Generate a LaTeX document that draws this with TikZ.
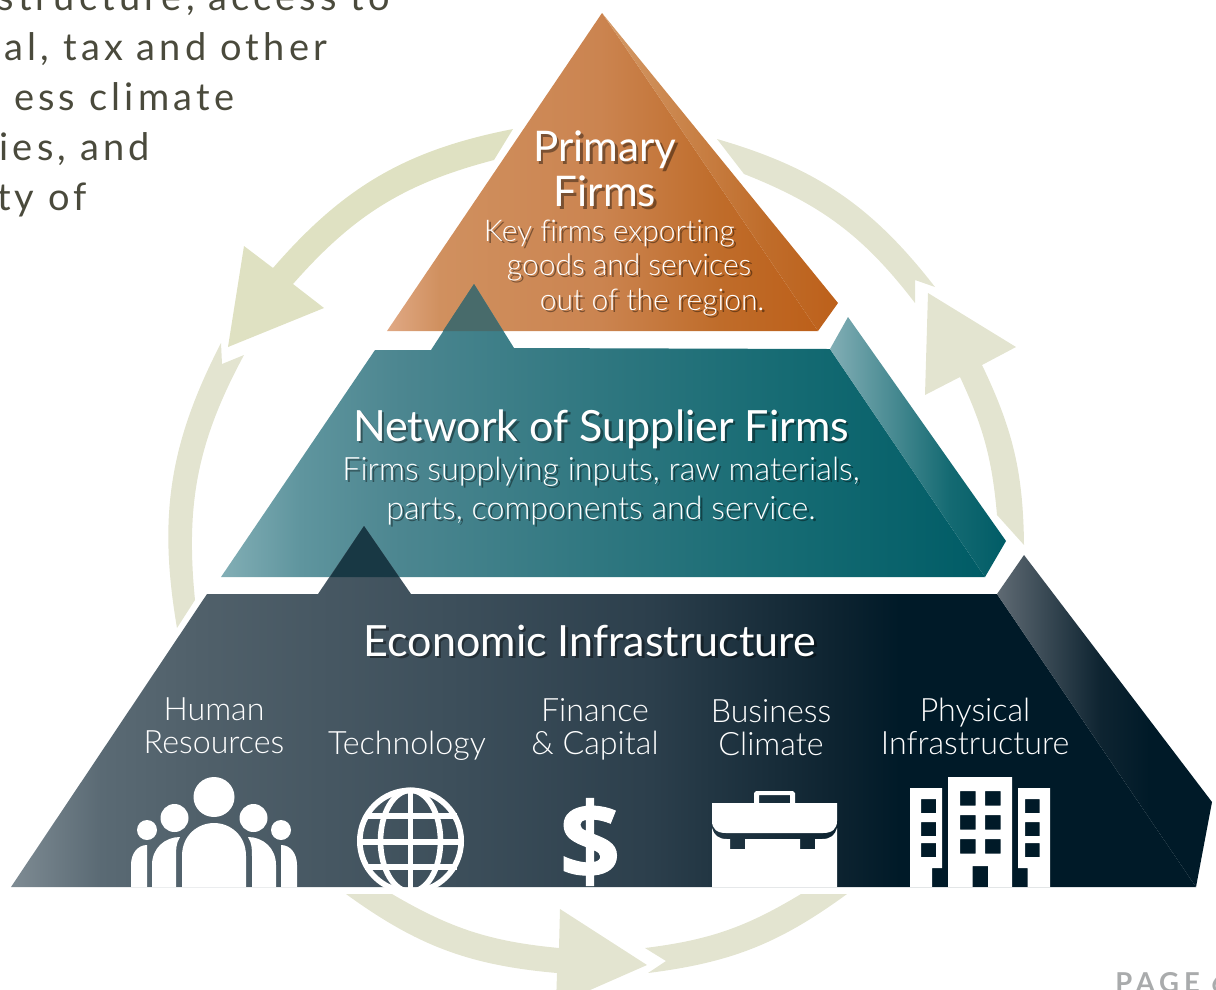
\documentclass[tikz,border=0pt]{standalone}
\usepackage{fontspec}
\usepackage{tikz}
\setmainfont{Lato}
\newfontfamily\lightfont[Ligatures=NoCommon]{Lato Light}
\newfontfamily\bodyfont[LetterSpace=11]{Lato}
\newfontfamily\pagefont[LetterSpace=18]{Lato}
\newfontfamily\iconfont[BoldFeatures={FakeBold=1}]{Open Sans}

\definecolor{arrowleft}{HTML}{DFE1C2}
\definecolor{arrowpale}{HTML}{E3E4D0}
\definecolor{bodyink}{HTML}{4A4A3C}
\definecolor{pageink}{HTML}{A9ABAC}
\definecolor{peaktop}{HTML}{486B6B}
\definecolor{peakmid}{HTML}{183844}
\definecolor{primA}{HTML}{E0A985}
\definecolor{primB}{HTML}{D0905F}
\definecolor{primC}{HTML}{CB8450}
\definecolor{primD}{HTML}{BF6C2A}
\definecolor{primE}{HTML}{BD601A}
\definecolor{primS}{HTML}{D49A68}
\definecolor{supA}{HTML}{82AEB5}
\definecolor{supB}{HTML}{5F959E}
\definecolor{supC}{HTML}{4C8690}
\definecolor{supD}{HTML}{2F7780}
\definecolor{supE}{HTML}{146A72}
\definecolor{supF}{HTML}{005C66}
\definecolor{infA}{HTML}{7E8B93}
\definecolor{infB}{HTML}{5A6A74}
\definecolor{infC}{HTML}{50606A}
\definecolor{infD}{HTML}{3D4F5B}
\definecolor{infE}{HTML}{2C3F4C}
\definecolor{infF}{HTML}{0E2431}
\definecolor{infG}{HTML}{001A28}
\definecolor{infS}{HTML}{5F6A73}

% stops run 25bp (left of the path) to 75bp (right of the path)
\pgfdeclarehorizontalshading{primaryfront}{100bp}{color(0bp)=(primA); color(25bp)=(primA); color(31.1bp)=(primB); color(49.7bp)=(primC); color(63.6bp)=(primD); color(75bp)=(primE); color(100bp)=(primE)}
\pgfdeclarehorizontalshading{primaryside}{100bp}{color(0bp)=(primS); color(25bp)=(primS); color(60bp)=(primD); color(75bp)=(primE); color(100bp)=(primE)}
\pgfdeclarehorizontalshading{supplierfront}{100bp}{color(0bp)=(supA); color(25bp)=(supA); color(30.2bp)=(supB); color(36.7bp)=(supC); color(49.8bp)=(supD); color(62.9bp)=(supE); color(75bp)=(supF); color(100bp)=(supF)}
\pgfdeclarehorizontalshading{supplierside}{100bp}{color(0bp)=(supA); color(25bp)=(supA); color(59bp)=(supE); color(75bp)=(supF); color(100bp)=(supF)}
\pgfdeclarehorizontalshading{infrafront}{100bp}{color(0bp)=(infA); color(25bp)=(infA); color(28.8bp)=(infB); color(33bp)=(infC); color(43.5bp)=(infD); color(52bp)=(infE); color(59.6bp)=(infF); color(62.5bp)=(infG); color(100bp)=(infG)}
\pgfdeclarehorizontalshading{infraside}{100bp}{color(0bp)=(infS); color(25bp)=(infS); color(49bp)=(infF); color(60.5bp)=(infG); color(100bp)=(infG)}

\tikzset{
  arrowa/.style={fill=arrowleft},
  arrowb/.style={fill=arrowpale},
  toptitle/.style={text=white, font=\fontsize{30}{32}\selectfont, align=center},
  tiertitle/.style={text=white, font=\fontsize{30.6}{32}\selectfont, align=center},
  tiertext/.style={text=white, font=\lightfont\fontsize{22.9}{27.7}\selectfont, align=center},
  keytext/.style={text=white, font=\lightfont\fontsize{21.3}{24}\selectfont, anchor=base west},
  pillar/.style={text=white, font=\lightfont\fontsize{22.9}{23.5}\selectfont, align=center},
  bodyline/.style={text=bodyink, font=\bodyfont\fontsize{27}{30}\selectfont, anchor=base east},
  icon/.style={fill=white},
  gridline/.style={draw=white, line width=4pt},
}

% white label with a drop shadow: name, position, style, text
\newcommand{\castlabel}[4]{
  \node[#3, text=black, opacity=.4, xshift=1.7pt, yshift=-1.7pt] at (#2) {#4};
  \node[#3] (#1) at (#2) {#4};
}

\begin{document}
\begin{tikzpicture}[x=0.025cm, y=-0.025cm]
  \path[use as bounding box, clip] (0,0) rectangle (1216,989);

  % text column cut by the page
  \node[bodyline] (line1) at (395,10)  {structure, access to};
  \node[bodyline] (line2) at (332,60)  {al, tax and other};
  \node[bodyline] (line3) at (239,110) {ess climate};
  \node[bodyline] (line4) at (155,160) {ies, and};
  \node[bodyline] (line5) at (92,210)  {ty of};
  \node[text=pageink, inner sep=0pt, font=\pagefont\bfseries\fontsize{19.5}{22}\selectfont, anchor=base west] (page) at (1115,992) {PAGE 6};

  % ring of arrows
  \fill[arrowa] (513,129) to[bend right=19] (273,268) -- (244,246) -- (228,347) -- (324,308) -- (293,284) to[bend left=17] (494,160) -- cycle;
  \fill[arrowb] (221,343) to[bend right=18.5] (177,628) -- (195,600) to[bend left=17] (244,355) -- (222,364) -- cycle;
  \fill[arrowb] (346,894) to[bend right=15.5] (557,973) -- (556,1005) -- (647,965) -- (560,909) -- (559,948) to[bend left=12.5] (392,894) -- cycle;
  \fill[arrowb] (847,894) to[bend left=14.5] (648,973) -- (666,961) -- (645,948) to[bend right=12] (801,894) -- cycle;
  \fill[arrowb] (1024,545) to[bend right=12.5] (982,365) -- (1016,347) -- (928,293) -- (925,395) -- (960,377) to[bend left=10] (997,515) -- cycle;
  \fill[arrowb] (717,139) to[bend left=18] (935,287) -- (915,280) -- (915,303) to[bend right=15.5] (744,174) -- cycle;

  % primary firms
  \path[shading=primaryfront] (602,13) -- (818,331) -- (387,331) -- cycle;
  \path[shading=primaryside] (602,13) -- (838,303) -- (818,331) -- cycle;
  % supplier firms, its peak shows through the tier above
  \path[shading=supplierfront] (221,577) -- (375,350) -- (431,350) -- (474,284) -- (514,348) -- (830,349) -- (985,577) -- cycle;
  \path[shading=supplierside] (830,349) -- (848,317) -- (1006,541) -- (985,577) -- cycle;
  \fill[fill=peaktop] (474,284) -- (503,331) -- (443,331) -- cycle;
  % economic infrastructure
  \path[shading=infrafront] (11,887) -- (207,594) -- (318,594) -- (364,526) -- (411,594) -- (997,594) -- (1196,887) -- cycle;
  \path[shading=infraside] (997,594) -- (1024,555) -- (1212,802) -- (1196,887) -- cycle;
  \fill[fill=peakmid] (364,526) -- (399,577) -- (330,577) -- cycle;

  % people
  \fill[icon] (214,797) ellipse (20.5 and 20);
  \fill[icon] (174.5,818) ellipse (14 and 14);
  \fill[icon] (253.5,818) ellipse (14 and 14);
  \fill[icon] (147,830) ellipse (10 and 10);
  \fill[icon] (281,830) ellipse (10 and 10);
  \fill[icon] (182,887) -- (182,856) .. controls (182,835) and (198,823) .. (214,823) .. controls (230,823) and (246,835) .. (246,856) -- (246,887) -- cycle;
  \fill[icon] (152,887) -- (152,865) .. controls (152,848) and (165,837) .. (180,837) .. controls (176,843) and (176,850) .. (176,856) -- (176,887) -- cycle;
  \fill[icon] (276,887) -- (276,865) .. controls (276,848) and (263,837) .. (248,837) .. controls (252,843) and (252,850) .. (252,856) -- (252,887) -- cycle;
  \fill[icon] (131,887) -- (131,865) .. controls (131,853) and (138,845) .. (147,845) -- (147,887) -- cycle;
  \fill[icon] (297,887) -- (297,865) .. controls (297,853) and (290,845) .. (281,845) -- (281,887) -- cycle;

  % globe
  \begin{scope}
    \clip (340,780) rectangle (480,887);
    \draw[gridline] (410.5,841) circle (50.7);
    \draw[gridline] (410.5,841) ellipse (30 and 50.7);
    \draw[gridline] (410.5,790) -- (410.5,892);
    \foreach \y/\x in {816/46, 842/51, 867/46}
      \draw[gridline] (410.5-\x,\y) -- (410.5+\x,\y);
  \end{scope}

  % dollar
  \node[text=white, font=\iconfont\bfseries\fontsize{76}{80}\selectfont] (dollar) at (590,842) {\$};

  % briefcase
  \fill[icon, even odd rule] (754,803) -- (754,793) -- (756,791) -- (793,791) -- (795,793) -- (795,803) -- cycle (759,803) -- (759,795) -- (790,795) -- (790,803) -- cycle;
  \fill[icon] (712,803) -- (837,803) -- (837,821) .. controls (837,829) and (832,833) .. (823,833) -- (726,833) .. controls (717,833) and (712,829) .. (712,821) -- cycle;
  \fill[icon] (712,828) .. controls (714,835) and (718,839) .. (727,839) -- (730,839) -- (730,849) -- (745,849) -- (745,839) -- (800,839) -- (800,849) -- (815,849) -- (815,839) -- (822,839) .. controls (831,839) and (835,835) .. (837,828) -- (837,887) -- (712,887) -- cycle;

  % buildings
  \fill[icon, even odd rule] (948,887) -- (948,777) -- (1012,777) -- (1012,887) -- (988,887) -- (988,866) -- (972.5,866) -- (972.5,887) -- cycle
    foreach \y in {791,815,839} { foreach \x in {960,985} { (\x,\y) rectangle ++(15.5,14.5) } };
  \fill[icon, even odd rule] (910,887) -- (910,788) -- (942,788) -- (942,868) -- (932,868) -- (932,887) -- cycle
    foreach \y in {799,822,843} { (921,\y) rectangle ++(15,14) };
  \fill[icon, even odd rule] (1050,887) -- (1050,788) -- (1018,788) -- (1018,868) -- (1027.5,868) -- (1027.5,887) -- cycle
    foreach \y in {799,822,843} { (1025,\y) rectangle ++(14.5,14) };

  % labels
  \castlabel{primary}{605,169}{toptitle}{Primary\\Firms}
  \castlabel{key1}{479,241}{keytext}{Key firms exporting}
  \castlabel{key2}{502,275}{keytext}{goods and services}
  \castlabel{key3}{535,310}{keytext}{out of the region.}
  \castlabel{network}{601,429}{tiertitle}{Network of Supplier Firms}
  \castlabel{supply}{601,491}{tiertext}{Firms supplying inputs, raw materials,\\parts, components and service.}
  \castlabel{economic}{590,641}{tiertitle}{Economic Infrastructure}
  \node[pillar] (human) at (214,726) {Human\\Resources};
  \node[pillar] (tech) at (407,746) {Technology};
  \node[pillar] (finance) at (595,729) {Finance\\\& Capital};
  \node[pillar] (business) at (771,728) {Business\\Climate};
  \node[pillar] (physical) at (975,726) {Physical\\Infrastructure};
\end{tikzpicture}
\end{document}
